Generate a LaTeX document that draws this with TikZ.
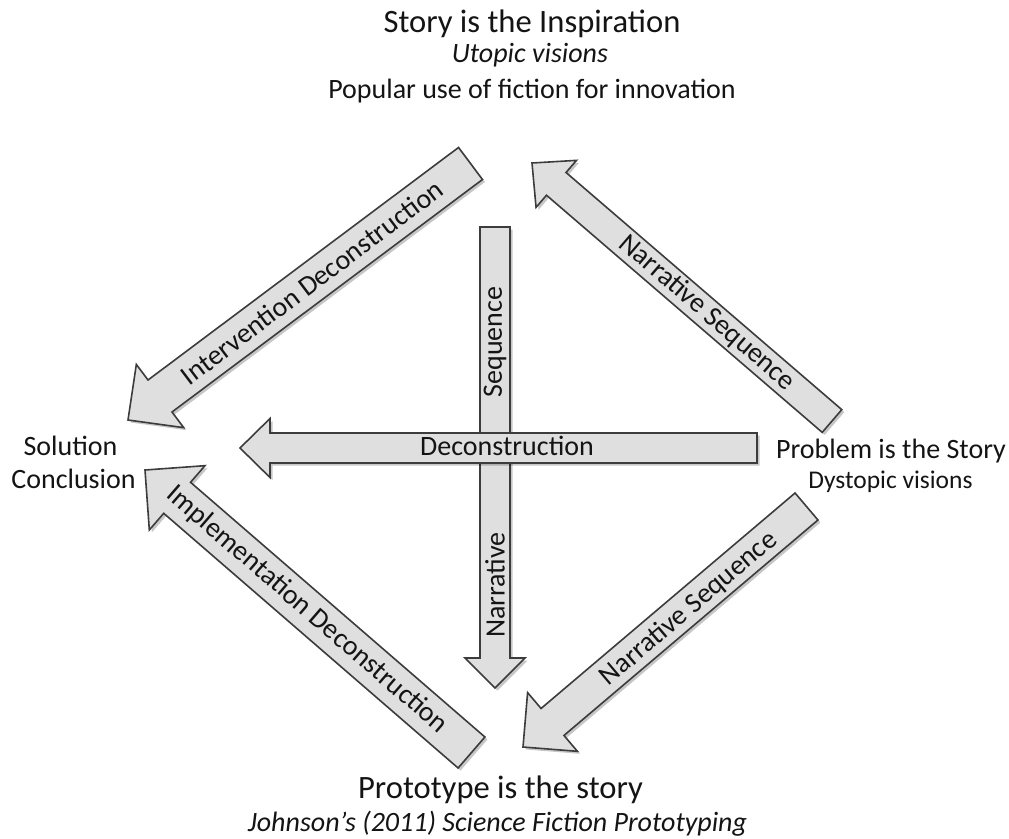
\documentclass[tikz,border=0pt]{standalone}
\usepackage{fontspec}
\setmainfont{Carlito}
\usetikzlibrary{calc}
\definecolor{afill}{RGB}{223,223,223}
\definecolor{aline}{RGB}{60,60,60}
\definecolor{txt}{RGB}{20,20,20}
\tikzset{
  barrow/.style={fill=afill, draw=aline, line width=1.6pt, line join=miter},
  bshadow/.style={fill=black, opacity=0.22, draw=none},
  lbl/.style={font=\fontsize{28}{30}\selectfont, text=txt, inner sep=0pt},
  ttl/.style={font=\fontsize{32.6}{36}\selectfont, text=txt, inner sep=0pt, anchor=base},
  sub/.style={font=\fontsize{28}{30}\selectfont, text=txt, inner sep=0pt, anchor=base},
  subit/.style={font=\fontsize{28}{30}\selectfont\itshape, text=txt, inner sep=0pt, anchor=base},
  small/.style={font=\fontsize{25.5}{28}\selectfont, text=txt, inner sep=0pt, anchor=base}
}
% #1 name, #2 tail, #3 tip, #4 half shaft, #5 half head, #6 head length
\newcommand{\blockarrow}[6]{%
  \coordinate (#1-b) at ($(#3)!#6!(#2)$);
  \coordinate (#1-1) at ($(#2)!#4!90:(#3)$);
  \coordinate (#1-2) at ($(#1-b)!#4!90:(#3)$);
  \coordinate (#1-3) at ($(#1-b)!#5!90:(#3)$);
  \coordinate (#1-5) at ($(#1-b)!#5!-90:(#3)$);
  \coordinate (#1-6) at ($(#1-b)!#4!-90:(#3)$);
  \coordinate (#1-7) at ($(#2)!#4!-90:(#3)$);
  \begin{scope}[transform canvas={xshift=2.5pt,yshift=-2.5pt}]
    \fill[bshadow] (#1-1) -- (#1-2) -- (#1-3) -- (#3) -- (#1-5) -- (#1-6) -- (#1-7) -- cycle;
  \end{scope}
  \draw[barrow] (#1-1) -- (#1-2) -- (#1-3) -- (#3) -- (#1-5) -- (#1-6) -- (#1-7) -- cycle;
}
\begin{document}
\begin{tikzpicture}[x=1pt,y=1pt]
\useasboundingbox (0,0) rectangle (1009,-838);
% arrow ends
\coordinate (seqT) at (495,-227);   \coordinate (seqH) at (495,-688);
\coordinate (decT) at (757,-448);   \coordinate (decH) at (240,-448);
\coordinate (ivT) at (470.5,-163.5); \coordinate (ivH) at (128,-420);
\coordinate (ns1T) at (832,-421);   \coordinate (ns1H) at (532,-163);
\coordinate (ns2T) at (806.5,-506.5); \coordinate (ns2H) at (523,-747);
\coordinate (imT) at (471.5,-752.5); \coordinate (imH) at (145,-470);

\blockarrow{iv}{ivT}{ivH}{20pt}{39.5pt}{40pt}
\blockarrow{ns1}{ns1T}{ns1H}{15pt}{31pt}{32pt}
\blockarrow{ns2}{ns2T}{ns2H}{17.7pt}{38.5pt}{38.7pt}
\blockarrow{im}{imT}{imH}{20.5pt}{42.5pt}{42.5pt}
\blockarrow{seq}{seqT}{seqH}{15pt}{30pt}{30pt}
\blockarrow{dec}{decT}{decH}{15pt}{29.5pt}{30pt}

% arrow labels
\node[lbl, rotate=37] (ivL) at (312,-282) {Intervention Deconstruction};
\node[lbl, rotate=-40.7] (ns1L) at (707,-313) {Narrative Sequence};
\node[lbl, rotate=40.3] (ns2L) at (689,-609) {Narrative Sequence};
\node[lbl, rotate=-40.9] (imL) at (307,-610) {Implementation Deconstruction};
\node[lbl, rotate=90] (seqL1) at (495,-342) {Sequence};
\node[lbl, rotate=90] (seqL2) at (495,-585) {Narrative};
\node[lbl] (decL) at (507,-446) {Deconstruction};

% corner texts
\node[ttl] (top1) at (532,-32) {Story is the Inspiration};
\node[subit] (top2) at (530,-62) {Utopic visions};
\node[sub] (top3) at (532,-98) {Popular use of fiction for innovation};

\node[sub] (left1) at (70.5,-455) {Solution};
\node[sub] (left2) at (73.5,-488) {Conclusion};

\node[sub] (right1) at (891,-458) {Problem is the Story};
\node[small] (right2) at (890.5,-488) {Dystopic visions};

\node[ttl] (bot1) at (500.5,-798) {Prototype is the story};
\node[subit] (bot2) at (497.5,-831) {Johnson’s (2011) Science Fiction Prototyping};
\end{tikzpicture}
\end{document}
